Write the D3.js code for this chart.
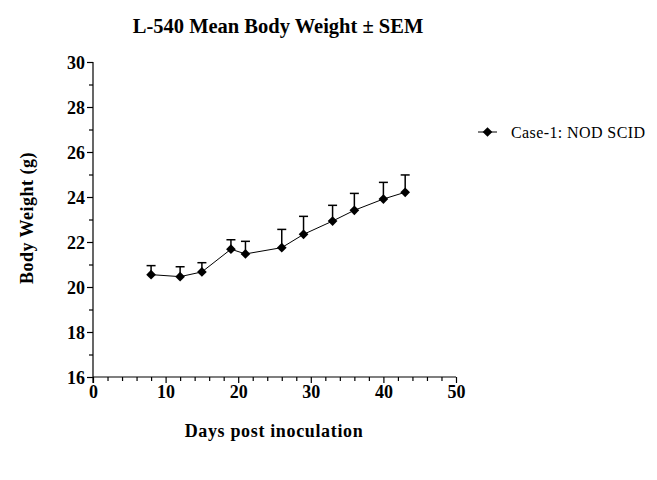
<!DOCTYPE html>
<html><head><meta charset="utf-8">
<script src="https://cdn.jsdelivr.net/npm/d3@7"></script>
<style>body{margin:0;background:#fff}svg{display:block}</style>
</head><body>
<svg id="c" width="657" height="480"></svg>
<script>
const days = [8, 12, 15, 19, 21, 26, 29, 33, 36, 40, 43];
const meanWeight = [20.55, 20.46, 20.67, 21.68, 21.47, 21.75, 22.34, 22.93, 23.41, 23.91, 24.21];
const sem = [0.40, 0.44, 0.41, 0.42, 0.56, 0.81, 0.80, 0.70, 0.75, 0.74, 0.77];
const xTicks = [0, 10, 20, 30, 40, 50];
const yTicks = [16, 18, 20, 22, 24, 26, 28, 30];
const seriesName = "Case-1: NOD SCID";

const svg = d3.select("#c");
const font = "'Liberation Serif','Times New Roman',serif";
const x = d3.scaleLinear().domain([0, 50]).range([93, 456]);
const y = d3.scaleLinear().domain([16, 30]).range([377, 62]);

// x axis
const gx = svg.append("g").attr("transform", "translate(0,377)");
gx.call(d3.axisBottom(x).tickValues(d3.range(0, 51, 2)).tickSize(4).tickFormat(""));
gx.call(g => g.selectAll(".tick line").attr("y2", d => d % 10 === 0 ? 6 : 4));
gx.selectAll(".tick").filter(d => xTicks.includes(d)).append("text")
  .attr("y", 21).attr("text-anchor", "middle").attr("fill", "#000")
  .style("font", "bold 18px " + font).text(d => d);
gx.select(".domain").attr("d", "M93,0H456");

// y axis
const gy = svg.append("g").attr("transform", "translate(93,0)");
gy.call(d3.axisLeft(y).tickValues(d3.range(16, 30.5, 1)).tickSize(4).tickFormat(""));
gy.call(g => g.selectAll(".tick line").attr("x2", d => d % 2 === 0 ? -6 : -4));
gy.selectAll(".tick").filter(d => yTicks.includes(d)).append("text")
  .attr("x", -8).attr("dy", "0.35em").attr("text-anchor", "end").attr("fill", "#000")
  .style("font", "bold 18px " + font).text(d => d);
gy.select(".domain").attr("d", "M0,62V383");
svg.selectAll(".domain, .tick line").attr("stroke", "#000").attr("stroke-width", 1.2);

const data = days.map((d, i) => ({d, m: meanWeight[i], s: sem[i]}));

// error bars (upper only)
const eb = svg.append("g").attr("stroke", "#000").attr("stroke-width", 1.5);
data.forEach(p => {
  eb.append("line").attr("x1", x(p.d)).attr("x2", x(p.d)).attr("y1", y(p.m)).attr("y2", y(p.m + p.s));
  eb.append("line").attr("x1", x(p.d) - 4.5).attr("x2", x(p.d) + 4.5).attr("y1", y(p.m + p.s)).attr("y2", y(p.m + p.s));
});

// line
svg.append("path").datum(data)
  .attr("fill", "none").attr("stroke", "#000").attr("stroke-width", 1)
  .attr("d", d3.line().x(p => x(p.d)).y(p => y(p.m)));

// markers
const diamond = d3.symbol().type(d3.symbolDiamond2).size(60);
svg.append("g").selectAll("path").data(data).join("path")
  .attr("transform", p => `translate(${x(p.d)},${y(p.m)})`)
  .attr("d", diamond).attr("fill", "#000");

// legend
const lg = svg.append("g").attr("transform", "translate(478,132)");
lg.append("line").attr("x1", 0).attr("x2", 19).attr("stroke", "#000").attr("stroke-width", 1);
lg.append("path").attr("transform", "translate(9.5,0)").attr("d", diamond).attr("fill", "#000");
lg.append("text").attr("x", 33).attr("dy", "0.35em").style("font", "16px " + font)
  .style("letter-spacing", "0.4px").text(seriesName);

// title and labels
svg.append("text").attr("x", 278).attr("y", 33).attr("text-anchor", "middle")
  .style("font", "bold 20.5px " + font).text("L-540 Mean Body Weight ± SEM");
svg.append("text").attr("x", 274).attr("y", 437).attr("text-anchor", "middle")
  .style("font", "bold 18px " + font).style("letter-spacing", "0.65px").text("Days post inoculation");
svg.append("text").attr("transform", "translate(33,218) rotate(-90)").attr("text-anchor", "middle")
  .style("font", "bold 18px " + font).style("letter-spacing", "0.5px").text("Body Weight (g)");
</script>
</body></html>
